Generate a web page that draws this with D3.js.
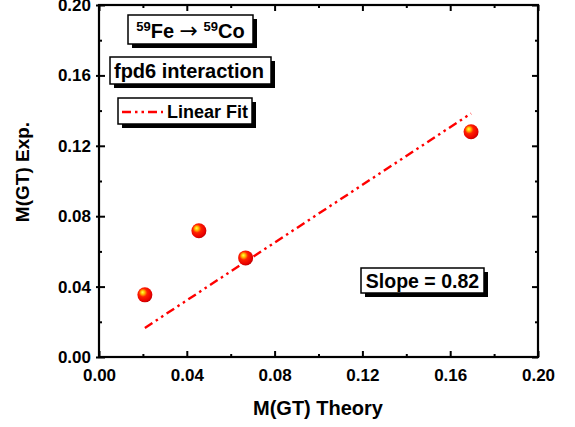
<!DOCTYPE html>
<html>
<head>
<meta charset="utf-8">
<script src="https://cdn.jsdelivr.net/npm/d3@7"></script>
<style>
  html, body { margin: 0; padding: 0; background: #fff; }
  svg { display: block; font-family: "Liberation Sans", Arial, sans-serif; font-weight: bold; }
</style>
</head>
<body>
<svg id="chart" width="575" height="427"></svg>
<script>
// Gamow-Teller matrix elements: shell-model theory vs experiment
const theory = [0.0209, 0.0455, 0.0668, 0.1695];
const experiment = [0.0353, 0.0717, 0.0563, 0.128];
const fitSlope = 0.82;
const fitIntercept = -0.0006;
const xTicks = [0.00, 0.04, 0.08, 0.12, 0.16, 0.20];
const yTicks = [0.00, 0.04, 0.08, 0.12, 0.16, 0.20];
const minorTicks = [0.02, 0.06, 0.10, 0.14, 0.18];

const svg = d3.select("#chart");
const m = { left: 99, right: 538, top: 5, bottom: 357 };

const x = d3.scaleLinear().domain([0, 0.20]).range([m.left, m.right]);
const y = d3.scaleLinear().domain([0, 0.20]).range([m.bottom, m.top]);

// sphere-look marker fill
const defs = svg.append("defs");
const grad = defs.append("radialGradient").attr("id", "ball")
  .attr("cx", "42%").attr("cy", "40%").attr("r", "62%").attr("fx", "34%").attr("fy", "32%");
grad.append("stop").attr("offset", "0%").attr("stop-color", "#ffff50");
grad.append("stop").attr("offset", "20%").attr("stop-color", "#ffc000");
grad.append("stop").attr("offset", "45%").attr("stop-color", "#ff2000");
grad.append("stop").attr("offset", "85%").attr("stop-color", "#e80000");
grad.append("stop").attr("offset", "100%").attr("stop-color", "#b80000");

// axes: ticks on all four sides pointing into the frame
const fmt = d3.format(".2f");
const bottomAxis = d3.axisBottom(x).tickValues(xTicks).tickFormat(fmt).tickSize(-6).tickPadding(12);
const leftAxis = d3.axisLeft(y).tickValues(yTicks).tickFormat(fmt).tickSize(-6).tickPadding(8);
const topAxis = d3.axisTop(x).tickValues(xTicks).tickFormat("").tickSize(-6);
const rightAxis = d3.axisRight(y).tickValues(yTicks).tickFormat("").tickSize(-6);

function styleAxis(g) {
  g.select(".domain").remove();
  g.selectAll(".tick line").attr("stroke", "#000").attr("stroke-width", 2);
  g.selectAll(".tick text").attr("fill", "#000").style("font-size", "17px").style("font-weight", "bold");
}

svg.append("g").attr("transform", `translate(0,${m.bottom})`).call(bottomAxis).call(styleAxis);
svg.append("g").attr("transform", `translate(${m.left},0)`).call(leftAxis).call(styleAxis)
  .selectAll(".tick line").attr("x1", -3);
svg.append("g").attr("transform", `translate(0,${m.top})`).call(topAxis).call(styleAxis);
svg.append("g").attr("transform", `translate(${m.right},0)`).call(rightAxis).call(styleAxis);

// minor ticks
const minorX = d3.axisBottom(x).tickValues(minorTicks).tickFormat("").tickSize(-3);
const minorY = d3.axisLeft(y).tickValues(minorTicks).tickFormat("").tickSize(-3);
const minorXT = d3.axisTop(x).tickValues(minorTicks).tickFormat("").tickSize(-3);
const minorYR = d3.axisRight(y).tickValues(minorTicks).tickFormat("").tickSize(-3);
svg.append("g").attr("transform", `translate(0,${m.bottom})`).call(minorX).call(styleAxis);
svg.append("g").attr("transform", `translate(${m.left},0)`).call(minorY).call(styleAxis);
svg.append("g").attr("transform", `translate(0,${m.top})`).call(minorXT).call(styleAxis);
svg.append("g").attr("transform", `translate(${m.right},0)`).call(minorYR).call(styleAxis);

// frame
svg.append("rect").attr("x", m.left).attr("y", m.top)
  .attr("width", m.right - m.left).attr("height", m.bottom - m.top)
  .attr("fill", "none").attr("stroke", "#000").attr("stroke-width", 2.2);

// axis titles
svg.append("text").attr("x", 318).attr("y", 415).attr("text-anchor", "middle")
  .style("font-size", "20px").text("M(GT) Theory");
svg.append("text").attr("transform", "translate(29,172) rotate(-90)").attr("text-anchor", "middle")
  .style("font-size", "19px").text("M(GT) Exp.");

// linear fit over the data range
const fitDash = "9,4,2.5,4,2.5,4";
const xMin = d3.min(theory), xMax = d3.max(theory);
svg.append("line")
  .attr("x1", x(xMin)).attr("y1", y(fitSlope * xMin + fitIntercept))
  .attr("x2", x(xMax)).attr("y2", y(fitSlope * xMax + fitIntercept))
  .attr("stroke", "#ff0000").attr("stroke-width", 2.4).attr("stroke-dasharray", fitDash);

// data points
svg.selectAll("circle.pt").data(theory.map((t, i) => [t, experiment[i]]))
  .join("circle").attr("class", "pt")
  .attr("cx", d => x(d[0])).attr("cy", d => y(d[1])).attr("r", 7.5)
  .attr("fill", "url(#ball)");

// boxed annotations with drop shadow
function box(x0, y0, w, h) {
  const g = svg.append("g");
  g.append("rect").attr("x", x0 + 4).attr("y", y0 + 4).attr("width", w).attr("height", h).attr("fill", "#000");
  g.append("rect").attr("x", x0).attr("y", y0).attr("width", w).attr("height", h)
    .attr("fill", "#fff").attr("stroke", "#000").attr("stroke-width", 1.5);
  return g;
}

const b1 = box(128, 15, 125, 29);
const t1 = b1.append("text").attr("x", 190.5).attr("y", 37.5).attr("text-anchor", "middle").style("font-size", "20px");
t1.append("tspan").style("font-size", "13px").attr("dy", -7).text("59");
t1.append("tspan").attr("dy", 7).text("Fe ");
t1.append("tspan").style("font-weight", "normal").style("font-family", "'DejaVu Sans'")
  .style("font-size", "22px").text("\u2192");
t1.append("tspan").text(" ");
t1.append("tspan").style("font-size", "13px").attr("dy", -7).text("59");
t1.append("tspan").attr("dy", 7).text("Co");

const b2 = box(110, 57, 161, 27);
b2.append("text").attr("x", 189).attr("y", 77.5).attr("text-anchor", "middle")
  .style("font-size", "20px").text("fpd6 interaction");

const b3 = box(118, 98, 134, 26);
b3.append("line").attr("x1", 122).attr("x2", 163).attr("y1", 112).attr("y2", 112)
  .attr("stroke", "#ff0000").attr("stroke-width", 2.4).attr("stroke-dasharray", fitDash);
b3.append("text").attr("x", 167).attr("y", 118).style("font-size", "18px").text("Linear Fit");

const b4 = box(361, 268, 123, 25);
b4.append("text").attr("x", 422.5).attr("y", 287.5).attr("text-anchor", "middle")
  .style("font-size", "19.5px").text("Slope = " + fitSlope.toFixed(2));
</script>
</body>
</html>
